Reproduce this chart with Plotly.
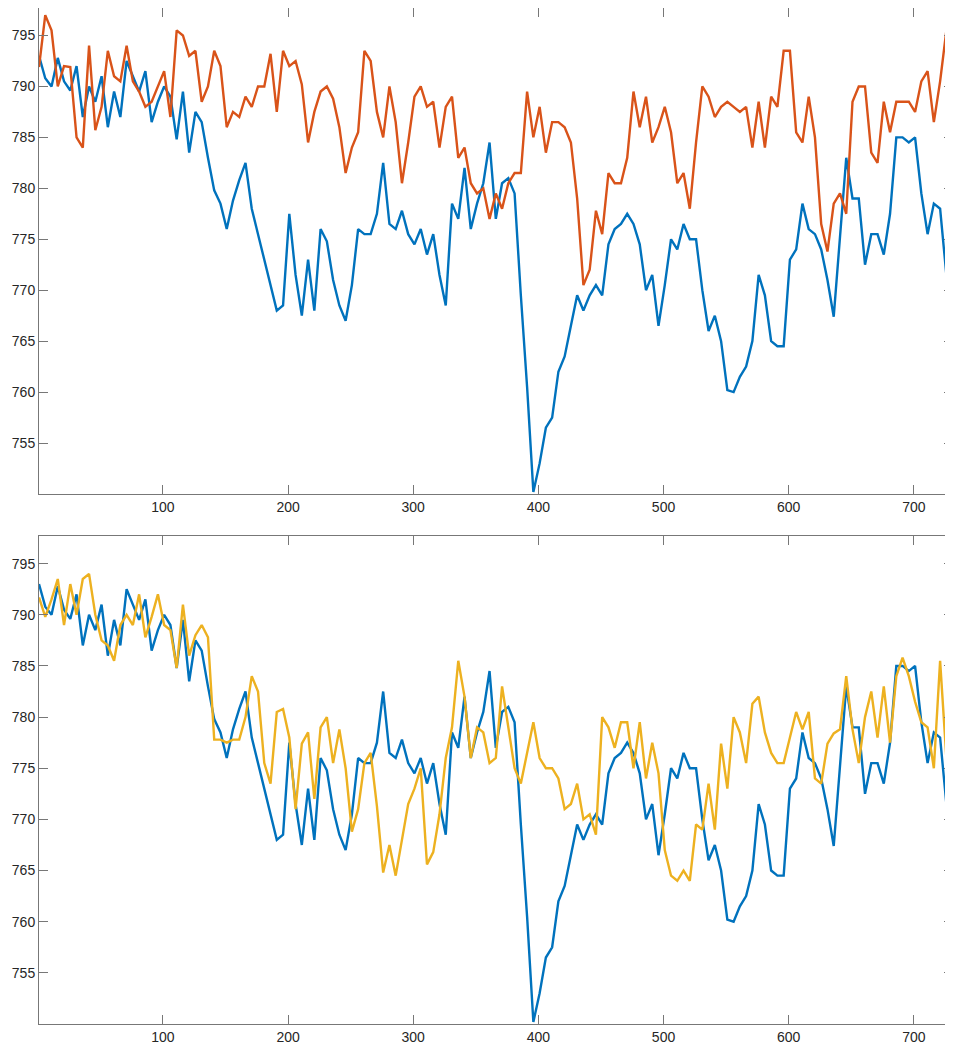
import plotly.graph_objects as go

# indice dei campioni (uno ogni 5) e ultimo punto
x_idx = list(range(1, 727, 5)) + [730]

blue = [
    793.0, 790.8, 790.0, 792.8, 790.5, 789.6, 792.0, 787.0, 790.0, 788.5,
    791.0, 786.0, 789.5, 787.0, 792.5, 791.0, 789.5, 791.5, 786.5, 788.5,
    790.0, 789.0, 784.8, 789.5, 783.5, 787.5, 786.5, 783.0, 779.8, 778.5,
    776.0, 778.8, 780.8, 782.5, 778.0, 775.5, 773.0, 770.5, 768.0, 768.5,
    777.5, 771.5, 767.5, 773.0, 768.0, 776.0, 774.8, 771.0, 768.5, 767.0,
    770.5, 776.0, 775.5, 775.5, 777.5, 782.5, 776.5, 776.0, 777.8, 775.5,
    774.5, 776.0, 773.5, 775.5, 771.5, 768.5, 778.5, 777.0, 782.0, 776.0,
    778.5, 780.5, 784.5, 777.0, 780.5, 781.0, 779.5, 769.5, 760.5, 750.2,
    753.0, 756.5, 757.5, 762.0, 763.5, 766.5, 769.5, 768.0, 769.5, 770.5,
    769.5, 774.5, 776.0, 776.5, 777.5, 776.5, 774.5, 770.0, 771.5, 766.5,
    770.5, 775.0, 774.0, 776.5, 775.0, 775.0, 770.0, 766.0, 767.5, 765.0,
    760.2, 760.0, 761.5, 762.5, 765.0, 771.5, 769.5, 765.0, 764.5, 764.5,
    773.0, 774.0, 778.5, 776.0, 775.5, 774.0, 771.0, 767.4, 775.0, 783.0,
    779.0, 779.0, 772.5, 775.5, 775.5, 773.5, 777.5, 785.0, 785.0, 784.5,
    785.0, 779.5, 775.5, 778.5, 778.0, 771.5, 767.5,
]

orange = [
    791.9, 797.0, 795.5, 790.0, 792.0, 791.9, 785.0, 784.0, 794.0, 785.7,
    788.0, 793.5, 791.0, 790.5, 794.0, 790.5, 789.5, 788.0, 788.5, 790.0,
    791.5, 787.0, 795.5, 795.0, 793.0, 793.5, 788.5, 790.0, 793.5, 792.0,
    786.0, 787.5, 787.0, 789.0, 788.0, 790.0, 790.0, 793.2, 787.5, 793.5,
    792.0, 792.5, 790.2, 784.5, 787.5, 789.5, 790.0, 788.8, 786.0, 781.5,
    784.0, 785.5, 793.5, 792.5, 787.5, 785.0, 790.0, 786.5, 780.5, 784.5,
    789.0, 790.0, 788.0, 788.5, 784.0, 788.0, 789.0, 783.0, 784.0, 780.5,
    779.5, 780.0, 777.0, 779.5, 778.0, 780.5, 781.5, 781.5, 789.5, 785.0,
    788.0, 783.5, 786.5, 786.5, 786.0, 784.5, 779.0, 770.5, 772.0, 777.8,
    775.5, 781.5, 780.5, 780.5, 783.0, 789.5, 786.0, 789.0, 784.5, 786.0,
    788.0, 785.5, 780.5, 781.5, 778.0, 784.5, 790.0, 789.0, 787.0, 788.0,
    788.5, 788.0, 787.5, 788.0, 784.0, 788.5, 784.0, 789.0, 788.0, 793.5,
    793.5, 785.5, 784.5, 789.0, 785.0, 776.5, 773.8, 778.5, 779.5, 777.5,
    788.5, 790.0, 790.0, 783.5, 782.5, 788.5, 785.5, 788.5, 788.5, 788.5,
    787.5, 790.5, 791.5, 786.5, 790.5, 795.5, 788.0,
]

yellow = [
    791.7, 789.8, 791.5, 793.5, 789.0, 793.0, 790.0, 793.5, 794.0, 790.0,
    787.5, 787.0, 785.5, 789.0, 790.0, 789.0, 792.0, 787.8, 789.8, 792.0,
    789.0, 788.5, 784.8, 791.0, 786.0, 788.0, 789.0, 787.8, 777.8, 777.8,
    777.5, 777.8, 777.8, 780.0, 784.0, 782.5, 775.5, 773.5, 780.5, 780.8,
    778.0, 771.0, 777.4, 778.5, 772.0, 779.0, 780.0, 775.5, 778.8, 775.0,
    768.8, 771.0, 775.5, 776.5, 771.3, 764.8, 767.5, 764.5, 768.0, 771.5,
    773.0, 775.0, 765.6, 766.8, 770.5, 776.0, 779.0, 785.5, 782.0, 776.0,
    779.0, 778.5, 775.5, 776.0, 783.0, 779.0, 775.0, 773.5, 776.5, 779.5,
    776.0, 775.0, 775.0, 774.0, 771.0, 771.5, 773.5, 770.0, 770.5, 768.5,
    780.0, 779.0, 777.0, 779.5, 779.5, 775.0, 779.5, 774.0, 777.5, 774.5,
    767.0, 764.5, 764.0, 765.0, 764.0, 769.5, 769.0, 773.5, 769.0, 777.4,
    773.0, 780.0, 778.5, 775.5, 781.3, 782.0, 778.5, 776.5, 775.5, 775.5,
    778.0, 780.5, 778.8, 780.5, 774.0, 773.5, 777.4, 778.4, 778.8, 784.0,
    778.8, 775.5, 780.0, 782.5, 778.0, 783.0, 777.5, 784.0, 785.8, 784.0,
    781.5, 779.5, 779.0, 775.0, 785.5, 776.0, 779.5,
]

assert len(x_idx) == len(blue) == len(orange) == len(yellow)

x_ticks = [100, 200, 300, 400, 500, 600, 700]
y_ticks = [755, 760, 765, 770, 775, 780, 785, 790, 795]

fig = go.Figure()

# pannello superiore: blu + arancio
fig.add_trace(go.Scatter(x=x_idx, y=blue, mode="lines",
                         line=dict(color="#0072BD", width=2.4), xaxis="x", yaxis="y"))
fig.add_trace(go.Scatter(x=x_idx, y=orange, mode="lines",
                         line=dict(color="#D95319", width=2.4), xaxis="x", yaxis="y"))

# pannello inferiore: blu + giallo
fig.add_trace(go.Scatter(x=x_idx, y=blue, mode="lines",
                         line=dict(color="#0072BD", width=2.4), xaxis="x2", yaxis="y2"))
fig.add_trace(go.Scatter(x=x_idx, y=yellow, mode="lines",
                         line=dict(color="#EDB120", width=2.4), xaxis="x2", yaxis="y2"))

axis_style = dict(
    showline=True, linecolor="#777777", linewidth=1, mirror="ticks",
    ticks="inside", ticklen=9, tickcolor="#777777",
    showgrid=False, zeroline=False,
    tickfont=dict(family="Liberation Sans, Arial", size=14, color="#262626"),
)

# la pagina ha 8px di margine: area del grafico tra x 39..953 e y 7..1024
fig.update_layout(
    width=945, height=1047,
    margin=dict(l=31, r=0, t=0, b=31),
    plot_bgcolor="white", paper_bgcolor="white",
    showlegend=False,
    xaxis=dict(domain=[0, 1], anchor="y", range=[1, 731.3], tickvals=x_ticks, **axis_style),
    yaxis=dict(domain=[0.5217, 1], anchor="x", range=[750, 797.7], tickvals=y_ticks, **axis_style),
    xaxis2=dict(domain=[0, 1], anchor="y2", range=[1, 731.3], tickvals=x_ticks, **axis_style),
    yaxis2=dict(domain=[0, 0.4803], anchor="x2", range=[750, 797.7], tickvals=y_ticks, **axis_style),
)

fig.write_html("out.html")
